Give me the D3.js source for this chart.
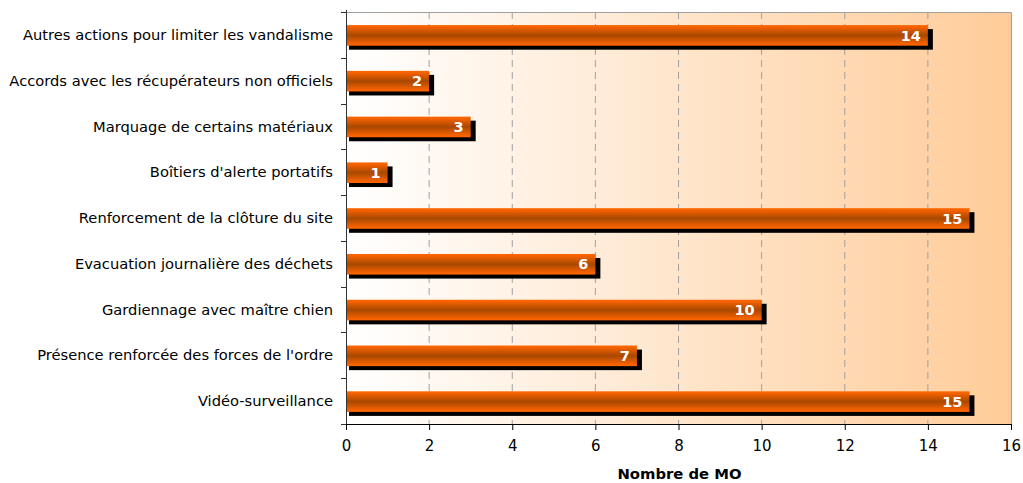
<!DOCTYPE html>
<html>
<head>
<meta charset="utf-8">
<script src="https://cdn.jsdelivr.net/npm/d3@7"></script>
<style>
  html, body { margin: 0; padding: 0; background: #fff; }
  svg { display: block; }
  text { font-family: "DejaVu Sans", Verdana, sans-serif; }
</style>
</head>
<body>
<svg id="chart" width="1023" height="483"></svg>
<script>
// Mesures de prévention contre le vandalisme, nombre de maîtres d'ouvrage
const categories = [
  "Autres actions pour limiter les vandalisme",
  "Accords avec les récupérateurs non officiels",
  "Marquage de certains matériaux",
  "Boîtiers d'alerte portatifs",
  "Renforcement de la clôture du site",
  "Evacuation journalière des déchets",
  "Gardiennage avec maître chien",
  "Présence renforcée des forces de l'ordre",
  "Vidéo-surveillance"
];
const values = [14, 2, 3, 1, 15, 6, 10, 7, 15];
const xTicks = [0, 2, 4, 6, 8, 10, 12, 14, 16];
const axisTitle = "Nombre de MO";

const svg = d3.select("#chart");
const plot = { left: 346, right: 1011, top: 12, bottom: 424 };

const x = d3.scaleLinear().domain([0, 16]).range([plot.left, plot.right]);
const y = d3.scaleBand().domain(categories).range([plot.top, plot.bottom]).padding(0);

const defs = svg.append("defs");
const bg = defs.append("linearGradient").attr("id", "bgGrad")
  .attr("x1", "0%").attr("x2", "100%").attr("y1", "0%").attr("y2", "0%");
bg.append("stop").attr("offset", "0%").attr("stop-color", "#ffffff");
bg.append("stop").attr("offset", "100%").attr("stop-color", "#ffcc99");

const barGrad = defs.append("linearGradient").attr("id", "barGrad")
  .attr("x1", "0%").attr("x2", "0%").attr("y1", "0%").attr("y2", "100%");
barGrad.append("stop").attr("offset", "0%").attr("stop-color", "#ff6600");
barGrad.append("stop").attr("offset", "12%").attr("stop-color", "#f06000");
barGrad.append("stop").attr("offset", "50%").attr("stop-color", "#a84800");
barGrad.append("stop").attr("offset", "88%").attr("stop-color", "#f06000");
barGrad.append("stop").attr("offset", "100%").attr("stop-color", "#ff6600");

// plot background
svg.append("rect")
  .attr("x", plot.left).attr("y", plot.top)
  .attr("width", plot.right - plot.left).attr("height", plot.bottom - plot.top)
  .attr("fill", "url(#bgGrad)");

// dashed vertical gridlines
svg.append("g").selectAll("line")
  .data(xTicks.filter(d => d > 0 && d < 16))
  .join("line")
  .attr("x1", d => x(d)).attr("x2", d => x(d))
  .attr("y1", plot.top).attr("y2", plot.bottom)
  .attr("stroke", "#a0a0a0").attr("stroke-width", 1)
  .attr("stroke-dasharray", "7,5");

// top and right border
svg.append("path")
  .attr("d", `M${plot.left},${plot.top + 0.5}H${plot.right + 0.5}V${plot.bottom}`)
  .attr("fill", "none").attr("stroke", "#a0a0a0").attr("stroke-width", 1);

const barH = y.bandwidth() * 0.45;
const barY = d => y(d) + (y.bandwidth() - barH) / 2 + 0.5;

// bar shadows
svg.append("g").selectAll("rect")
  .data(values)
  .join("rect")
  .attr("x", x(0) + 3)
  .attr("y", (d, i) => barY(categories[i]) + 4)
  .attr("width", d => x(d) - x(0) + 2)
  .attr("height", barH)
  .attr("fill", "#000");

// bars
svg.append("g").selectAll("rect")
  .data(values)
  .join("rect")
  .attr("x", x(0) + 1)
  .attr("y", (d, i) => barY(categories[i]))
  .attr("width", d => x(d) - x(0) - 1)
  .attr("height", barH)
  .attr("fill", "url(#barGrad)");

// value labels
svg.append("g").selectAll("text")
  .data(values)
  .join("text")
  .attr("x", d => x(d) - 7)
  .attr("y", (d, i) => barY(categories[i]) + barH / 2)
  .attr("dy", "0.36em")
  .attr("text-anchor", "end")
  .attr("fill", "#fff")
  .attr("font-weight", "bold")
  .attr("font-size", 14.5)
  .text(d => d);

// left axis
const yAxis = svg.append("g")
  .attr("transform", `translate(${plot.left},0)`);
yAxis.append("line")
  .attr("x1", 0.5).attr("x2", 0.5).attr("y1", plot.top - 2).attr("y2", plot.bottom)
  .attr("stroke", "#333");
yAxis.selectAll("line.tick")
  .data(d3.range(categories.length + 1))
  .join("line").attr("class", "tick")
  .attr("x1", -5).attr("x2", 0)
  .attr("y1", i => Math.round(plot.top + i * y.step()) + 0.5)
  .attr("y2", i => Math.round(plot.top + i * y.step()) + 0.5)
  .attr("stroke", "#333");
yAxis.selectAll("text")
  .data(categories)
  .join("text")
  .attr("x", -13)
  .attr("y", d => y(d) + y.bandwidth() / 2)
  .attr("dy", "0.35em")
  .attr("text-anchor", "end")
  .attr("font-size", 14.7)
  .attr("fill", "#000")
  .text(d => d);

// bottom axis
const xAxis = svg.append("g")
  .attr("transform", `translate(0,${plot.bottom})`)
  .call(d3.axisBottom(x).tickValues(xTicks).tickSize(6).tickSizeOuter(0).tickPadding(10));
xAxis.select(".domain").attr("stroke", "#000").attr("d", `M${plot.left},0.5H${plot.right + 1}`);
xAxis.selectAll(".tick line").attr("stroke", "#000");
xAxis.selectAll(".tick text")
  .attr("font-size", 15)
  .attr("fill", "#000")
  .style("font-family", "'DejaVu Sans', sans-serif");

svg.append("text")
  .attr("x", (plot.left + plot.right) / 2 + 1)
  .attr("y", 479)
  .attr("text-anchor", "middle")
  .attr("font-weight", "bold")
  .attr("font-size", 14.8)
  .attr("fill", "#000")
  .text(axisTitle);
</script>
</body>
</html>
